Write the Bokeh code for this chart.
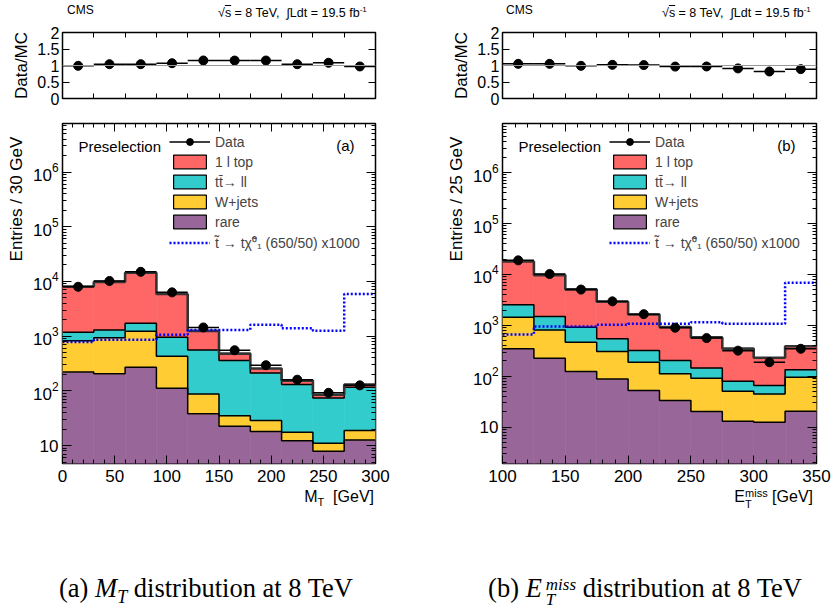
import numpy as np
from bokeh.plotting import figure
from bokeh.models import (Range1d, LinearAxis, LogAxis, FixedTicker, SingleIntervalTicker,
                          LogTicker, LogTickFormatter, Label, Legend, LegendItem, Div, Span,
                          CustomJSTickFormatter)
from bokeh.layouts import column, row
from bokeh.embed import file_html
from bokeh.resources import INLINE

FONT = "Liberation Sans"

# ---------------- (a) M_T distribution ----------------
mt_edges = [0, 30, 60, 90, 120, 150, 180, 210, 240, 270, 300]
mt_rare = [220, 205, 270, 112, 38, 22.5, 18, 12.3, 7.9, 12.7]
mt_wjets = [600, 725, 960, 318, 50, 12.5, 10.6, 5.2, 3.1, 6.1]
mt_ttll = [360, 370, 490, 520, 472, 323, 184, 112.5, 63, 97]
mt_top1l = [6890, 8500, 12680, 4950, 690, 122, 43, 24, 11, 14]
mt_data = [7990, 10190, 14980, 6310, 1440, 552, 294, 160, 92, 126]
mt_signal = [780, 855, 855, 1060, 1300, 1300, 1610, 1390, 1260, 5900]

# ---------------- (b) E_T^miss distribution ----------------
met_edges = [100, 125, 150, 175, 200, 225, 250, 275, 300, 325, 350]
met_rare = [348, 227, 124, 89, 52.6, 33.5, 20.3, 13.1, 12.5, 20.6]
met_wjets = [1102, 588, 343, 218, 136, 78.5, 71.7, 37.9, 32.5, 75.4]
met_ttll = [1090, 685, 453, 239, 132, 92, 53, 29, 21, 38]
met_top1l = [15460, 8200, 4180, 2354, 1319, 726, 435, 270, 165, 256]
met_data = [18900, 10190, 5050, 2960, 1660, 900, 563, 319, 189, 347]
met_signal = [665, 955, 955, 1030, 1075, 1075, 1155, 1075, 1075, 6870]

legend_labels = ["Data", "1 l top", "tt\u0304\u2192 ll", "W+jets", "rare",
                 "t\u0303 \u2192 t\u03c7\u0303\u2070\u2081 (650/50) x1000"]
COLORS = ["#996699", "#FFCC33", "#33CCCC", "#FF6666"]  # rare, W+jets, tt->ll, 1l top


def style_axis(ax, major_in, minor_in, size="17px", show=True):
    ax.axis_line_color = None
    ax.major_tick_in = major_in
    ax.major_tick_out = 0
    ax.minor_tick_in = minor_in
    ax.minor_tick_out = 0
    ax.major_tick_line_color = "black"
    ax.minor_tick_line_color = "black"
    ax.major_label_text_font = FONT
    ax.major_label_text_color = "black"
    ax.major_label_text_font_size = size
    ax.major_label_standoff = 5
    ax.axis_label_text_font = FONT
    ax.axis_label_text_font_style = "normal"
    ax.axis_label_text_color = "black"
    if not show:
        ax.formatter = CustomJSTickFormatter(code="return ''")
        ax.major_label_standoff = 0


def lab(fig, x, y, text, dx, dy, size, align="left"):
    fig.add_layout(Label(x=x, y=y, x_offset=dx, y_offset=dy, text=text,
                         text_font=FONT, text_font_size=size, text_align=align,
                         text_baseline="middle", text_color="black"))


def make_panel(edges, rare, wjets, ttll, top1l, data, signal, ylo, yhi, ylabel,
               tag, lpad, rpad, width):
    edges = np.array(edges, float)
    lo, hi = edges[:-1], edges[1:]
    ctr = 0.5 * (lo + hi)
    comps = [np.array(c, float) for c in (rare, wjets, ttll, top1l)]
    cum = np.cumsum(comps, axis=0)
    total = cum[-1]
    data = np.array(data, float)
    signal = np.array(signal, float)
    ratio = data / total
    x0, x1 = edges[0], edges[-1]

    # ---------- ratio panel ----------
    r = figure(width=width, height=90, x_range=Range1d(x0, x1), y_range=Range1d(0, 2),
               output_backend="svg", toolbar_location=None,
               min_border_left=lpad, min_border_right=rpad,
               min_border_top=12, min_border_bottom=12)
    r.grid.visible = False
    r.outline_line_color = "black"
    r.outline_line_width = 1.5
    r.xaxis[0].ticker = FixedTicker(ticks=list(edges))
    style_axis(r.xaxis[0], 5, 0, show=False)
    r.yaxis[0].ticker = FixedTicker(ticks=[0, 0.5, 1, 1.5, 2])
    r.yaxis[0].major_label_overrides = {0: "0", 0.5: "0.5", 1: "1", 1.5: "1.5", 2: "2"}
    style_axis(r.yaxis[0], 7, 0, size="16px")
    r.yaxis[0].major_label_standoff = 3
    r.yaxis[0].axis_label = "Data/MC"
    r.yaxis[0].axis_label_text_font_size = "17px"
    r.yaxis[0].axis_label_standoff = 3
    top_ax = LinearAxis(ticker=FixedTicker(ticks=list(edges)))
    style_axis(top_ax, 5, 0, show=False)
    r.add_layout(top_ax, "above")
    right_ax = LinearAxis(ticker=FixedTicker(ticks=[0.5, 1, 1.5]))
    style_axis(right_ax, 7, 0, show=False)
    r.add_layout(right_ax, "right")
    r.add_layout(Span(location=1, dimension="width", line_color="#999999", line_width=1))
    r.segment(x0=lo, y0=ratio, x1=hi, y1=ratio, line_color="black", line_width=1.5)
    r.scatter(ctr, ratio, size=9, color="black")

    # ---------- main panel ----------
    p = figure(width=width, height=377, x_range=Range1d(x0, x1), y_range=Range1d(ylo, yhi),
               y_axis_type="log", output_backend="svg", toolbar_location=None,
               min_border_left=lpad, min_border_right=rpad,
               min_border_top=13, min_border_bottom=24)
    p.grid.visible = False
    p.outline_line_color = "black"
    p.outline_line_width = 1.5
    p.xaxis[0].ticker = SingleIntervalTicker(interval=50, num_minor_ticks=5)
    style_axis(p.xaxis[0], 8, 4)
    p.xaxis[0].major_label_standoff = 6
    p.yaxis[0].ticker = LogTicker(num_minor_ticks=10)
    p.yaxis[0].formatter = LogTickFormatter()
    p.yaxis[0].major_label_overrides = {10: "10"}
    style_axis(p.yaxis[0], 9, 4)
    p.yaxis[0].major_label_standoff = 4
    p.yaxis[0].axis_label_text_font_size = "17px"
    p.yaxis[0].axis_label_standoff = 4
    # title pushed toward the top end of the axis (ROOT style) with leading spaces
    p.yaxis[0].axis_label = "\u00a0" * 40 + ylabel
    t_ax = LinearAxis(ticker=SingleIntervalTicker(interval=50, num_minor_ticks=5))
    style_axis(t_ax, 8, 4, show=False)
    p.add_layout(t_ax, "above")
    r_ax = LogAxis(ticker=LogTicker(num_minor_ticks=10))
    style_axis(r_ax, 9, 4, show=False)
    p.add_layout(r_ax, "right")

    bottoms = [np.full_like(total, 0.01)] + [cum[k] for k in range(3)]
    for k in range(4):
        p.quad(left=lo, right=hi, bottom=bottoms[k], top=cum[k],
               fill_color=COLORS[k], line_color=COLORS[k], line_width=0.6)
    for k in range(3):
        p.step(x=edges, y=np.append(cum[k], cum[k][-1]), mode="after",
               line_color="black", line_width=1.5)
    p.step(x=edges, y=np.append(total, total[-1]), mode="after",
           line_color="#333333", line_width=2.6)
    sig_r = p.step(x=edges, y=np.append(signal, signal[-1]), mode="after",
                   line_color="#0000FF", line_width=2.5, line_dash="2 2")
    seg_r = p.segment(x0=lo, y0=data, x1=hi, y1=data, line_color="black", line_width=1.5)
    pts_r = p.scatter(ctr, data, size=9, color="black")

    # legend swatches: outlined boxes kept below the visible range
    proxies = []
    for k in (3, 2, 1, 0):
        proxies.append(p.quad(left=[x0], right=[x1], bottom=[ylo * 1e-3], top=[ylo * 1e-2],
                              fill_color=COLORS[k], line_color="black", line_width=1.2))
    items = [LegendItem(label=legend_labels[0], renderers=[seg_r, pts_r])]
    for i, pr in enumerate(proxies):
        items.append(LegendItem(label=legend_labels[i + 1], renderers=[pr]))
    items.append(LegendItem(label=legend_labels[5], renderers=[sig_r]))
    leg = Legend(items=items, location=(107, 211), orientation="vertical",
                 glyph_width=41, glyph_height=17, label_height=17, spacing=3,
                 padding=0, margin=0, label_standoff=5,
                 label_text_font=FONT, label_text_font_size="14px",
                 background_fill_alpha=0, border_line_alpha=0)
    p.add_layout(leg)

    lab(p, x0, yhi, "Preselection", 16, -23, "15px")
    lab(p, x1, yhi, tag, -21, -22, "15px", align="right")
    return r, p


rA, pA = make_panel(mt_edges, mt_rare, mt_wjets, mt_ttll, mt_top1l, mt_data, mt_signal,
                    4.7, 7.7e6, "Entries / 30 GeV", "(a)", 62, 45, 420)
rB, pB = make_panel(met_edges, met_rare, met_wjets, met_ttll, met_top1l, met_data, met_signal,
                    1.94, 9.2e6, "Entries / 25 GeV", "(b)", 82, 19, 415)

SANS = "font-family:Liberation Sans,Arial,sans-serif;color:black;white-space:nowrap;position:absolute;"
SERIF = "font-family:Liberation Serif,DejaVu Serif,serif;font-size:26.5px;color:black;white-space:nowrap;position:absolute;line-height:30px;"
LUMI = ("\u221a<span style=\"text-decoration:overline\">s</span> = 8 TeV,&nbsp; "
        "\u222bLdt = 19.5 fb<sup style=\"font-size:8px\">-1</sup>")


def header(cms_left, lumi_left, width):
    html = (f"<div style=\"position:relative;width:{width}px;height:20px\">"
            f"<div style=\"{SANS}left:{cms_left}px;top:3px;font-size:12px;line-height:14px\">CMS</div>"
            f"<div style=\"{SANS}left:{lumi_left}px;top:3px;font-size:12.5px;line-height:14px\">{LUMI}</div>"
            f"</div>")
    return Div(text=html, width=width, height=20, margin=0)


hA = header(67, 218, 420)
hB = header(86, 242, 415)

xlabA = "M<sub style=\"font-size:11px;vertical-align:-4px\">T</sub>&nbsp; [GeV]"
xlabB = ("E<span style=\"display:inline-block;vertical-align:-6px;font-size:11px;"
         "line-height:11px;text-align:left\">miss<br>T</span>&nbsp;[GeV]")
capA = "(a) <i>M<sub style=\"font-size:18px\">T</sub></i> distribution at 8 TeV"
capB = ("(b) <i>E</i><span style=\"display:inline-block;vertical-align:-8px;font-size:17px;"
        "line-height:15px;text-align:left;margin-left:4px\"><i>miss</i><br><i>T</i></span> distribution at 8 TeV")


def bottom(width, xlab, xlab_right, cap, cap_left, cap_width):
    html = (f"<div style=\"position:relative;width:{width}px;height:129px\">"
            f"<div style=\"{SANS}right:{xlab_right}px;top:0px;font-size:16px;line-height:20px\">{xlab}</div>"
            f"<div style=\"{SERIF}left:{cap_left}px;width:{cap_width}px;text-align:center;top:86px\">{cap}</div>"
            f"</div>")
    return Div(text=html, width=width, height=129, margin=0)


bA = bottom(420, xlabA, 46, capA, 0, 412)
bB = bottom(415, xlabB, 22, capB, 0, 450)

layout = column(row(hA, hB), row(rA, rB), row(pA, pB), row(bA, bB))
open("out.html", "w").write(file_html(layout, INLINE))
